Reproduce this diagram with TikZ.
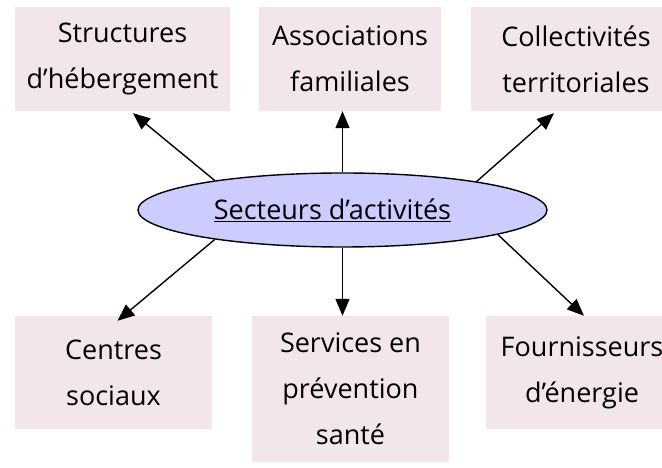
\documentclass[tikz,border=0pt]{standalone}
\usepackage{fontspec}
\setmainfont{Open Sans}
\usepackage{tikz}
\usetikzlibrary{shapes.geometric,arrows.meta}

\definecolor{boxpink}{RGB}{242,229,236}
\definecolor{ovalblue}{RGB}{204,204,255}

\begin{document}
\begin{tikzpicture}[
    x=1pt,y=1pt,
    box/.style={rectangle,fill=boxpink,inner sep=0pt,align=center,
                font=\fontsize{27}{46}\selectfont},
    oval/.style={ellipse,draw,fill=ovalblue,line width=1.4pt,inner sep=0pt,
                 minimum width=409pt,minimum height=74pt,
                 font=\fontsize{27}{30}\selectfont},
    arrow/.style={-{Triangle[length=17pt,width=14pt]},line width=1.4pt}
]
\useasboundingbox (0,0) rectangle (662,468);
\clip (0,0) rectangle (662,468);

%--- Top row ---%
\node[box,minimum width=215pt,minimum height=104pt] (heberg) at (122.5,409) {Structures\\d’hébergement};
\node[box,minimum width=182pt,minimum height=104pt] (assoc) at (350,409) {Associations\\familiales};
\node[box,minimum width=210pt,minimum height=104pt] (collect) at (576,409) {Collectivités\\territoriales};

%--- Central ellipse ---%
\node[oval] (secteurs) at (342.5,258) {\hspace*{-20pt}\underline{Secteurs d’activités}};

%--- Bottom row ---%
\node[box,minimum width=197pt,minimum height=113pt] (centres) at (113.5,95.5) {Centres\\sociaux};
\node[box,minimum width=197pt,minimum height=146pt] (services) at (350.5,79) {Services en\\prévention\\santé};
\node[box,minimum width=192pt,minimum height=113pt] (fourniss) at (582,95.5) {Fournisseurs\\d’énergie};

%--- Arrows up ---%
\draw[arrow] (secteurs.167) -- ([xshift=10.5pt,yshift=-2pt]heberg.south);
\draw[arrow] (secteurs.north) -- (secteurs.north |- assoc.south);
\draw[arrow] (secteurs.12) -- ([xshift=-22pt,yshift=-2pt]collect.south);

%--- Arrows down ---%
\draw[arrow] (secteurs.193) -- ([xshift=4pt,yshift=-5pt]centres.north);
\draw[arrow] (secteurs.south) -- (secteurs.south |- services.north);
\draw[arrow] (secteurs.351) -- ([xshift=2pt]fourniss.north);

\end{tikzpicture}
\end{document}
